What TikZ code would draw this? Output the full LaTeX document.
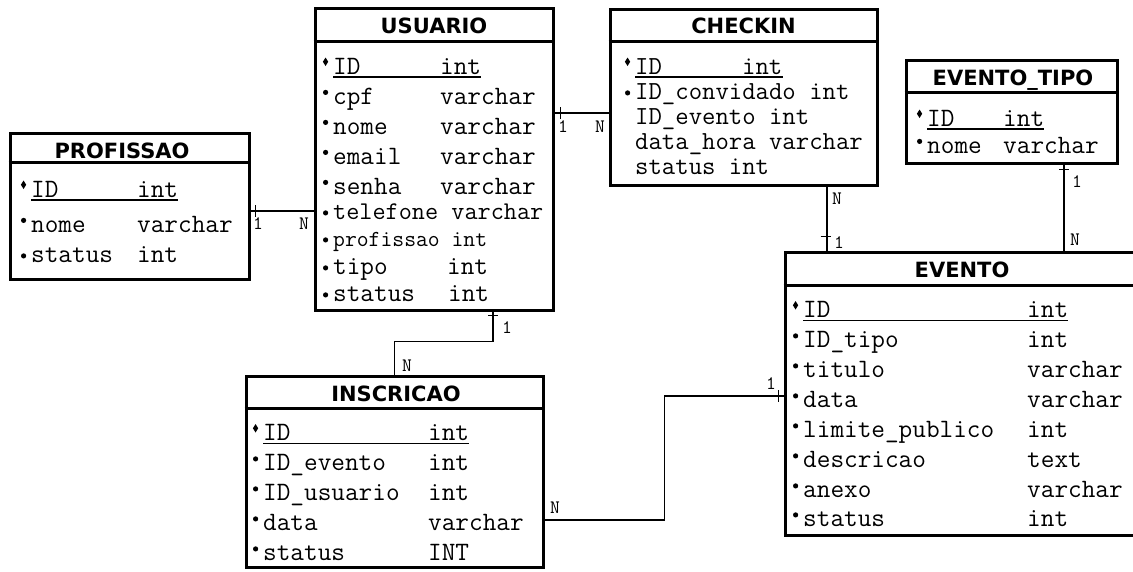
\documentclass[tikz,border=0pt]{standalone}
\usepackage{fontspec}
\usepackage{graphicx}
\newfontfamily\titlefont{DejaVu Sans}
\usetikzlibrary{positioning,calc}

\newcommand{\pk}{\makebox[0pt][r]{\raisebox{8pt}{\scalebox{0.75}[1.2]{\rotatebox{45}{\rule{5pt}{5pt}}}}\hspace{5pt}}}
\newcommand{\dt}{\makebox[0pt][r]{\raisebox{9pt}{\tikz\fill (0,0) circle (2.6pt);}\hspace{5pt}}}
\newcommand{\dm}{\makebox[0pt][r]{\raisebox{3.5pt}{\tikz\fill (0,0) circle (2.6pt);}\hspace{5pt}}}

\begin{document}
\begin{tikzpicture}[
  x=1pt, y=-1pt,
  tbl/.style={draw,line width=3pt,inner sep=0pt},
  hdr/.style={font=\titlefont\bfseries\fontsize{21}{21}\selectfont,inner sep=0pt,anchor=base},
  fld/.style={font=\ttfamily\fontsize{26.5}{27}\selectfont,inner sep=0pt,anchor=base west},
  chk/.style={fld,font=\ttfamily\fontsize{26}{26}\selectfont},
  rel/.style={line width=1.5pt},
  card/.style={font=\ttfamily\fontsize{19}{19}\selectfont,inner sep=0pt},
  ]
  \fill[white] (0,0) rectangle (1133,571);
  \useasboundingbox (0,0) rectangle (1133,571);

  \node[tbl, minimum width=239pt, minimum height=146pt] (profissao) at (129.5,206) {};
  \node[tbl, minimum width=238pt, minimum height=302pt] (usuario) at (434,159) {};
  \node[tbl, minimum width=267pt, minimum height=176pt] (checkin) at (743.5,97) {};
  \node[tbl, minimum width=211pt, minimum height=103pt] (tipo) at (1011.5,111.5) {};
  \node[tbl, minimum width=354pt, minimum height=283pt] (evento) at (962,393.5) {};
  \node[tbl, minimum width=297pt, minimum height=191pt] (inscricao) at (394.5,471.5) {};

  \draw[line width=3pt] ([yshift=-31pt]profissao.north west) -- ([yshift=-31pt]profissao.north east);
  \draw[line width=3pt] ([yshift=-35pt]usuario.north west) -- ([yshift=-35pt]usuario.north east);
  \draw[line width=3pt] ([yshift=-34pt]checkin.north west) -- ([yshift=-34pt]checkin.north east);
  \draw[line width=3pt] ([yshift=-34pt]tipo.north west) -- ([yshift=-34pt]tipo.north east);
  \draw[line width=3pt] ([yshift=-35pt]evento.north west) -- ([yshift=-35pt]evento.north east);
  \draw[line width=3pt] ([yshift=-34pt]inscricao.north west) -- ([yshift=-34pt]inscricao.north east);

  \node[hdr] (profissao-h) at (122,158) {PROFISSAO};
  \node[hdr] (usuario-h) at (434,33) {USUARIO};
  \node[hdr] (checkin-h) at (743.5,33) {CHECKIN};
  \node[hdr] (tipo-h) at (1013,85) {EVENTO\_TIPO};
  \node[hdr] (evento-h) at (962,277) {EVENTO};
  \node[hdr] (inscricao-h) at (396,401) {INSCRICAO};

  \node[fld] (pr-id) at (31,197) {\pk ID};
  \node[fld] (pr-idT) at (137,197) {int};
  \node[fld] (pr-nome) at (31,232) {\dt nome};
  \node[fld] (pr-nomeT) at (137,232) {varchar};
  \node[fld] (pr-status) at (31,262) {\dm status};
  \node[fld] (pr-statusT) at (137,262) {int};

  \node[fld] (us-id) at (333,74) {\pk ID};
  \node[fld] (us-idT) at (440,74) {int};
  \node[fld] (us-cpf) at (333,104) {\dt cpf};
  \node[fld] (us-cpfT) at (440,104) {varchar};
  \node[fld] (us-nome) at (333,134) {\dt nome};
  \node[fld] (us-nomeT) at (440,134) {varchar};
  \node[fld] (us-email) at (333,164) {\dt email};
  \node[fld] (us-emailT) at (440,164) {varchar};
  \node[fld] (us-senha) at (333,194) {\dt senha};
  \node[fld] (us-senhaT) at (440,194) {varchar};
  \node[fld, font=\ttfamily\fontsize{25.5}{26}\selectfont] (us-tel) at (333,219) {\dm telefone varchar};
  \node[fld, font=\ttfamily\fontsize{23}{23}\selectfont] (us-prof) at (333,246) {\dm profissao int};
  \node[fld] (us-tipo) at (333,274) {\dm tipo};
  \node[fld] (us-tipoT) at (447,274) {int};
  \node[fld] (us-status) at (333,301) {\dm status};
  \node[fld] (us-statusT) at (448,301) {int};

  \node[chk] (ck-id) at (635,74) {\pk ID};
  \node[chk] (ck-idT) at (742,74) {int};
  \node[chk] (ck-conv) at (635,99) {\dm ID\_convidado int};
  \node[chk] (ck-ev) at (635,124) {ID\_evento int};
  \node[chk] (ck-data) at (635,149) {data\_hora varchar};
  \node[chk] (ck-status) at (635,174) {status int};

  \node[fld] (tp-id) at (927,126) {\pk ID};
  \node[fld] (tp-idT) at (1003,126) {int};
  \node[fld] (tp-nome) at (927,153) {\dt nome};
  \node[fld] (tp-nomeT) at (1003,153) {varchar};

  \node[fld] (ev-id) at (803,317.5) {\pk ID};
  \node[fld] (ev-idT) at (1027,317.5) {int};
  \node[fld] (ev-tipo) at (803,347.5) {\dt ID\_tipo};
  \node[fld] (ev-tipoT) at (1027,347.5) {int};
  \node[fld] (ev-titulo) at (803,377.5) {\dt titulo};
  \node[fld] (ev-tituloT) at (1027,377.5) {varchar};
  \node[fld] (ev-data) at (803,407.5) {\dt data};
  \node[fld] (ev-dataT) at (1027,407.5) {varchar};
  \node[fld] (ev-lim) at (803,437.5) {\dt limite\_publico};
  \node[fld] (ev-limT) at (1027,437.5) {int};
  \node[fld] (ev-desc) at (803,467.5) {\dt descricao};
  \node[fld] (ev-descT) at (1027,467.5) {text};
  \node[fld] (ev-anexo) at (803,497.5) {\dt anexo};
  \node[fld] (ev-anexoT) at (1027,497.5) {varchar};
  \node[fld] (ev-status) at (803,526.5) {\dt status};
  \node[fld] (ev-statusT) at (1027,526.5) {int};

  \node[fld] (in-id) at (263,440.5) {\pk ID};
  \node[fld] (in-idT) at (428,440.5) {int};
  \node[fld] (in-ev) at (263,470.5) {\dt ID\_evento};
  \node[fld] (in-evT) at (428,470.5) {int};
  \node[fld] (in-us) at (263,500.5) {\dt ID\_usuario};
  \node[fld] (in-usT) at (428,500.5) {int};
  \node[fld] (in-data) at (263,530.5) {\dt data};
  \node[fld] (in-dataT) at (428,530.5) {varchar};
  \node[fld] (in-status) at (263,560.5) {\dt status};
  \node[fld] (in-statusT) at (428,560.5) {INT};

  \draw[rel] ([yshift=-3pt]pr-id.base west) -- ([yshift=-3pt]pr-idT.base east);
  \draw[rel] ([yshift=-3pt]us-id.base west) -- ([yshift=-3pt]us-idT.base east);
  \draw[rel] ([yshift=-3pt]ck-id.base west) -- ([yshift=-3pt]ck-idT.base east);
  \draw[rel] ([yshift=-3pt]tp-id.base west) -- ([yshift=-3pt]tp-idT.base east);
  \draw[rel] ([yshift=-3pt]ev-id.base west) -- ([yshift=-3pt]ev-idT.base east);
  \draw[rel] ([yshift=-3pt]in-id.base west) -- ([yshift=-3pt]in-idT.base east);

  \draw[rel] ([yshift=-5pt]profissao.east) -- ([yshift=-5pt]profissao.east -| usuario.west);
  \draw[rel] ([xshift=5pt,yshift=1pt]profissao.east) -- ++(0,12);
  \draw[rel] ([yshift=46pt]usuario.east) -- ([yshift=46pt]usuario.east -| checkin.west);
  \draw[rel] ([xshift=6pt,yshift=52pt]usuario.east) -- ++(0,12);
  \draw[rel] ([xshift=59pt]usuario.south) -- ++(0,30) -| (inscricao.north);
  \draw[rel] ([xshift=54pt,yshift=-4pt]usuario.south) -- ++(10,0);
  \draw[rel] ([xshift=83.5pt]checkin.south) -- ([xshift=83.5pt]checkin.south |- evento.north);
  \draw[rel] ([xshift=37pt,yshift=14pt]evento.north west) -- ++(10,0);
  \draw[rel] ([xshift=52.5pt]tipo.south) -- ([xshift=52.5pt]tipo.south |- evento.north);
  \draw[rel] ([xshift=47.5pt,yshift=-5pt]tipo.south) -- ++(10,0);
  \draw[rel] ([yshift=-48.5pt]inscricao.east) -- ++(120,0) |- ([yshift=-2.5pt]evento.west);
  \draw[rel] ([xshift=-5pt,yshift=3.5pt]evento.west) -- ++(0,12);

  \node[card] (c-pr1) at (258,224) {1};
  \node[card] (c-prN) at (304,224) {N};
  \node[card] (c-ck1) at (563,127) {1};
  \node[card] (c-ckN) at (600,127) {N};
  \node[card] (c-in1) at (507,328) {1};
  \node[card] (c-inN) at (407,366) {N};
  \node[card] (c-evN) at (837,199) {N};
  \node[card] (c-ev1) at (839,243) {1};
  \node[card] (c-tp1) at (1077,182) {1};
  \node[card] (c-tpN) at (1075,240) {N};
  \node[card] (c-ieN) at (555,508) {N};
  \node[card] (c-ie1) at (771,384) {1};
\end{tikzpicture}
\end{document}
